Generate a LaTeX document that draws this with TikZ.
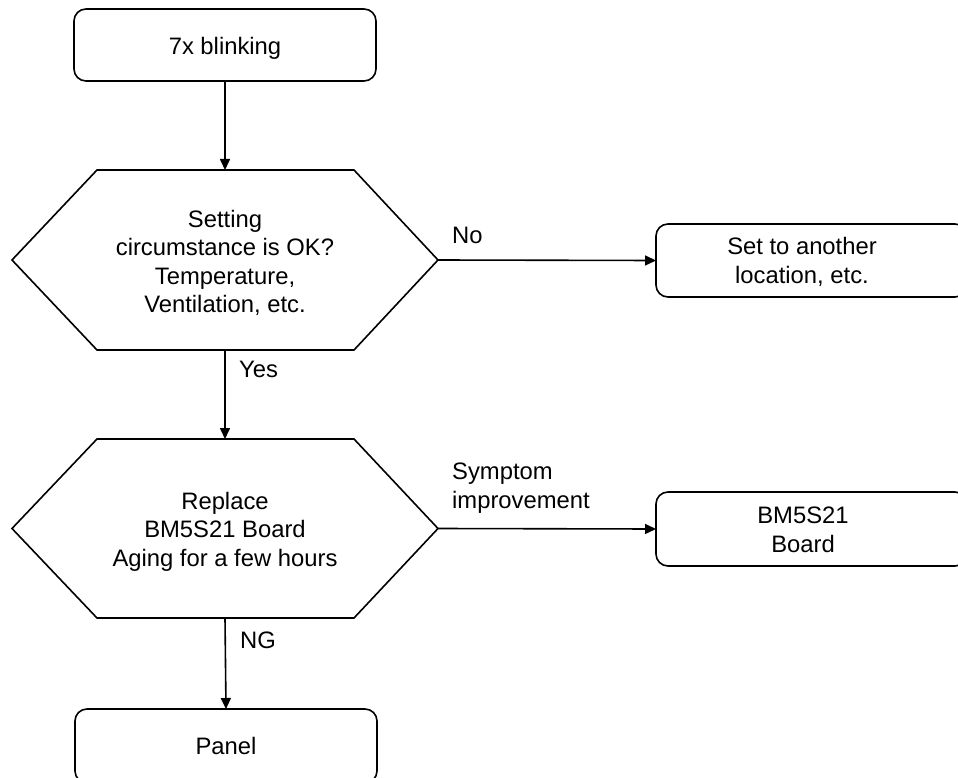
\documentclass[tikz,border=0pt]{standalone}
\usepackage{fontspec}
\setmainfont{Liberation Sans}
\usetikzlibrary{arrows.meta,calc}
\begin{document}
\begin{tikzpicture}[x=1pt,y=-1pt,
  every node/.style={font=\fontsize{23.8pt}{28.5pt}\selectfont},
  box/.style={draw, line width=1.6pt, rounded corners=12pt, inner sep=0pt, outer sep=0pt},
  hexa/.style={inner sep=0pt, outer sep=0pt, minimum width=426pt, minimum height=180pt},
  txt/.style={align=center, inner sep=0pt},
  lbl/.style={inner sep=0pt, anchor=base west, align=left},
  conn/.style={line width=1.6pt, -{Triangle[length=11pt,width=10pt]}},
  hexline/.style={line width=1.6pt}]
\useasboundingbox (0,0) rectangle (958,778);
% top box
\node[box, minimum width=302pt, minimum height=72pt] (top) at (225,45) {};
\node[txt] (toptxt) at (225,48) {7x blinking};
% hexagon 1
\node[hexa] (h1) at (225,260) {};
\draw[hexline] (h1.west) -- ($(h1.north west)+(85,0)$) -- ($(h1.north east)+(-84,0)$) -- (h1.east)
  -- ($(h1.south east)+(-84,0)$) -- ($(h1.south west)+(85,0)$) -- cycle;
\node[txt] (h1txt) at (225,263) {Setting\\circumstance is OK?\\Temperature,\\Ventilation, etc.};
% set box
\node[box, minimum width=311pt, minimum height=73pt] (set) at (811.5,260.5) {};
\node[txt] (settxt) at (802,262) {Set to another\\location, etc.};
% hexagon 2
\node[hexa, minimum height=179pt] (h2) at (225,528.5) {};
\draw[hexline] (h2.west) -- ($(h2.north west)+(85,0)$) -- ($(h2.north east)+(-84,0)$) -- (h2.east)
  -- ($(h2.south east)+(-84,0)$) -- ($(h2.south west)+(85,0)$) -- cycle;
\node[txt] (h2txt) at (225,531.5) {Replace\\BM5S21 Board\\Aging for a few hours};
% board box
\node[box, minimum width=311pt, minimum height=74pt] (bm) at (811.5,529) {};
\node[txt] (bmtxt) at (803,530) {BM5S21\\Board};
% panel
\node[box, minimum width=302pt, minimum height=74pt] (panel) at (226,746) {Panel};
% connectors
\draw[conn] (top.south) -- (h1.north);
\draw[conn] (h1.east) -- (set.west);
\draw[conn] (h1.south) -- (h2.north);
\draw[conn] (h2.east) -- (bm.west);
\draw[conn] (h2.south) -- (panel.north);
% labels
\node[lbl] (no) at (452,243) {No};
\node[lbl] (yes) at (239,377) {Yes};
\node[lbl] (sym) at (452,508) {Symptom\\improvement};
\node[lbl] (ng) at (240,648) {NG};
\end{tikzpicture}
\end{document}
